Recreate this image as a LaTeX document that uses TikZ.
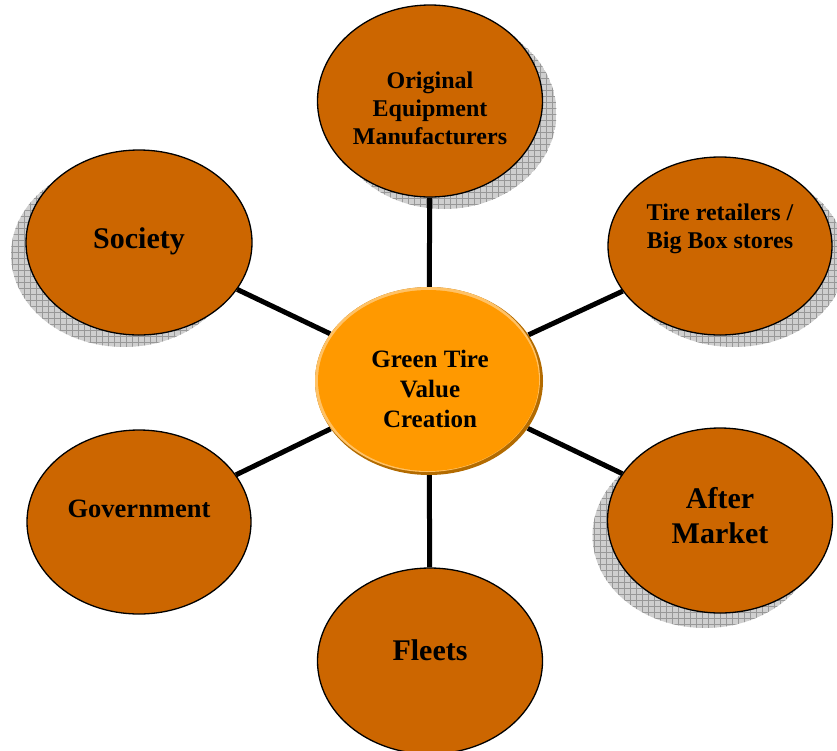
\documentclass[tikz,border=0pt]{standalone}
\usepackage{fontspec}
\setmainfont{Liberation Serif}
\usetikzlibrary{shapes.geometric}

\definecolor{rust}{HTML}{CC6600}
\definecolor{hub}{HTML}{FF9900}
\definecolor{hublight}{HTML}{FFC266}
\definecolor{hubdark}{HTML}{B36B00}
\definecolor{shadefill}{HTML}{CFCFCF}
\definecolor{shadegrid}{HTML}{989898}

\pgfdeclarelayer{shade}
\pgfdeclarelayer{links}
\pgfsetlayers{shade,links,main}

% hatched drop shadow behind an oval: centre x, centre y, x radius, y radius
\newcommand\ovalshade[4]{%
  \begin{scope}
    \clip (#1,#2) ellipse (#3pt and #4pt);
    \fill[shadefill] (#1,#2) ellipse (#3pt and #4pt);
    \draw[shadegrid, line width=0.5pt]
      (#1-#3-12,#2+#4+12) grid[step=6pt] (#1+#3+12,#2-#4-12);
  \end{scope}}

\tikzset{
  stake/.style={ellipse, draw=black, line width=1.3pt, fill=rust,
    inner sep=0pt},
  link/.style={line width=5pt, black},
  caption/.style={align=center, text=black, inner sep=0pt},
  big/.style={font=\bfseries\fontsize{30}{35}\selectfont},
  mid/.style={font=\bfseries\fontsize{26.5}{31}\selectfont},
  small/.style={font=\bfseries\fontsize{24}{28}\selectfont},
}

\begin{document}
\begin{tikzpicture}[x=1pt, y=-1pt]
\useasboundingbox (0,0) rectangle (837,750);

% shadows
\begin{pgfonlayer}{shade}
  \ovalshade{444}{113}{112.5}{96}
  \ovalshade{734}{258}{112}{89}
  \ovalshade{124}{254.5}{113}{92.5}
  \ovalshade{705}{535.5}{112.5}{92.5}
\end{pgfonlayer}

% stakeholder ovals
\node[stake, minimum width=225pt, minimum height=192pt] (oem) at (430,101) {};
\node[stake, minimum width=224pt, minimum height=178pt] (retail) at (720,246) {};
\node[stake, minimum width=226pt, minimum height=185pt] (society) at (139,242.5) {};
\node[stake, minimum width=225pt, minimum height=185pt] (after) at (720,520.5) {};
\node[stake, minimum width=224pt, minimum height=184pt] (gov) at (139,522) {};
\node[stake, minimum width=225pt, minimum height=186pt] (fleets) at (430,661) {};

% central oval with a soft bevelled rim
\node[ellipse, inner sep=0pt, minimum width=228pt, minimum height=188pt,
  fill=hubdark,
  path picture={
    \fill[hublight] ([xshift=-2pt,yshift=2pt]path picture bounding box.center)
      ellipse (113pt and 93pt);
    \fill[hub] ([xshift=-0.5pt,yshift=0.5pt]path picture bounding box.center)
      ellipse (110.5pt and 90.5pt);
  }] (hubnode) at (429,381) {};

% spokes
\begin{pgfonlayer}{links}
  \draw[link] (hubnode) -- (oem);
  \draw[link] (hubnode) -- (retail);
  \draw[link] (hubnode) -- (society);
  \draw[link] (hubnode) -- (after);
  \draw[link] (hubnode) -- (gov);
  \draw[link] (hubnode) -- (fleets);
\end{pgfonlayer}

% labels
\node[caption, small] (oemtext) at (430,108) {Original\\Equipment\\Manufacturers};
\node[caption, small] (retailtext) at (720,229) {Tire retailers /\\Big Box stores};
\node[caption, big] (societytext) at (139,241) {Society};
\node[caption, big] (aftertext) at (720,516) {After\\Market};
\node[caption, mid] (govtext) at (139,509) {Government};
\node[caption, big] (fleetstext) at (430,650) {Fleets};
\node[caption, font=\bfseries\fontsize{25}{30}\selectfont] (hubtext) at (430,389)
  {Green Tire\\Value\\Creation};
\end{tikzpicture}
\end{document}
